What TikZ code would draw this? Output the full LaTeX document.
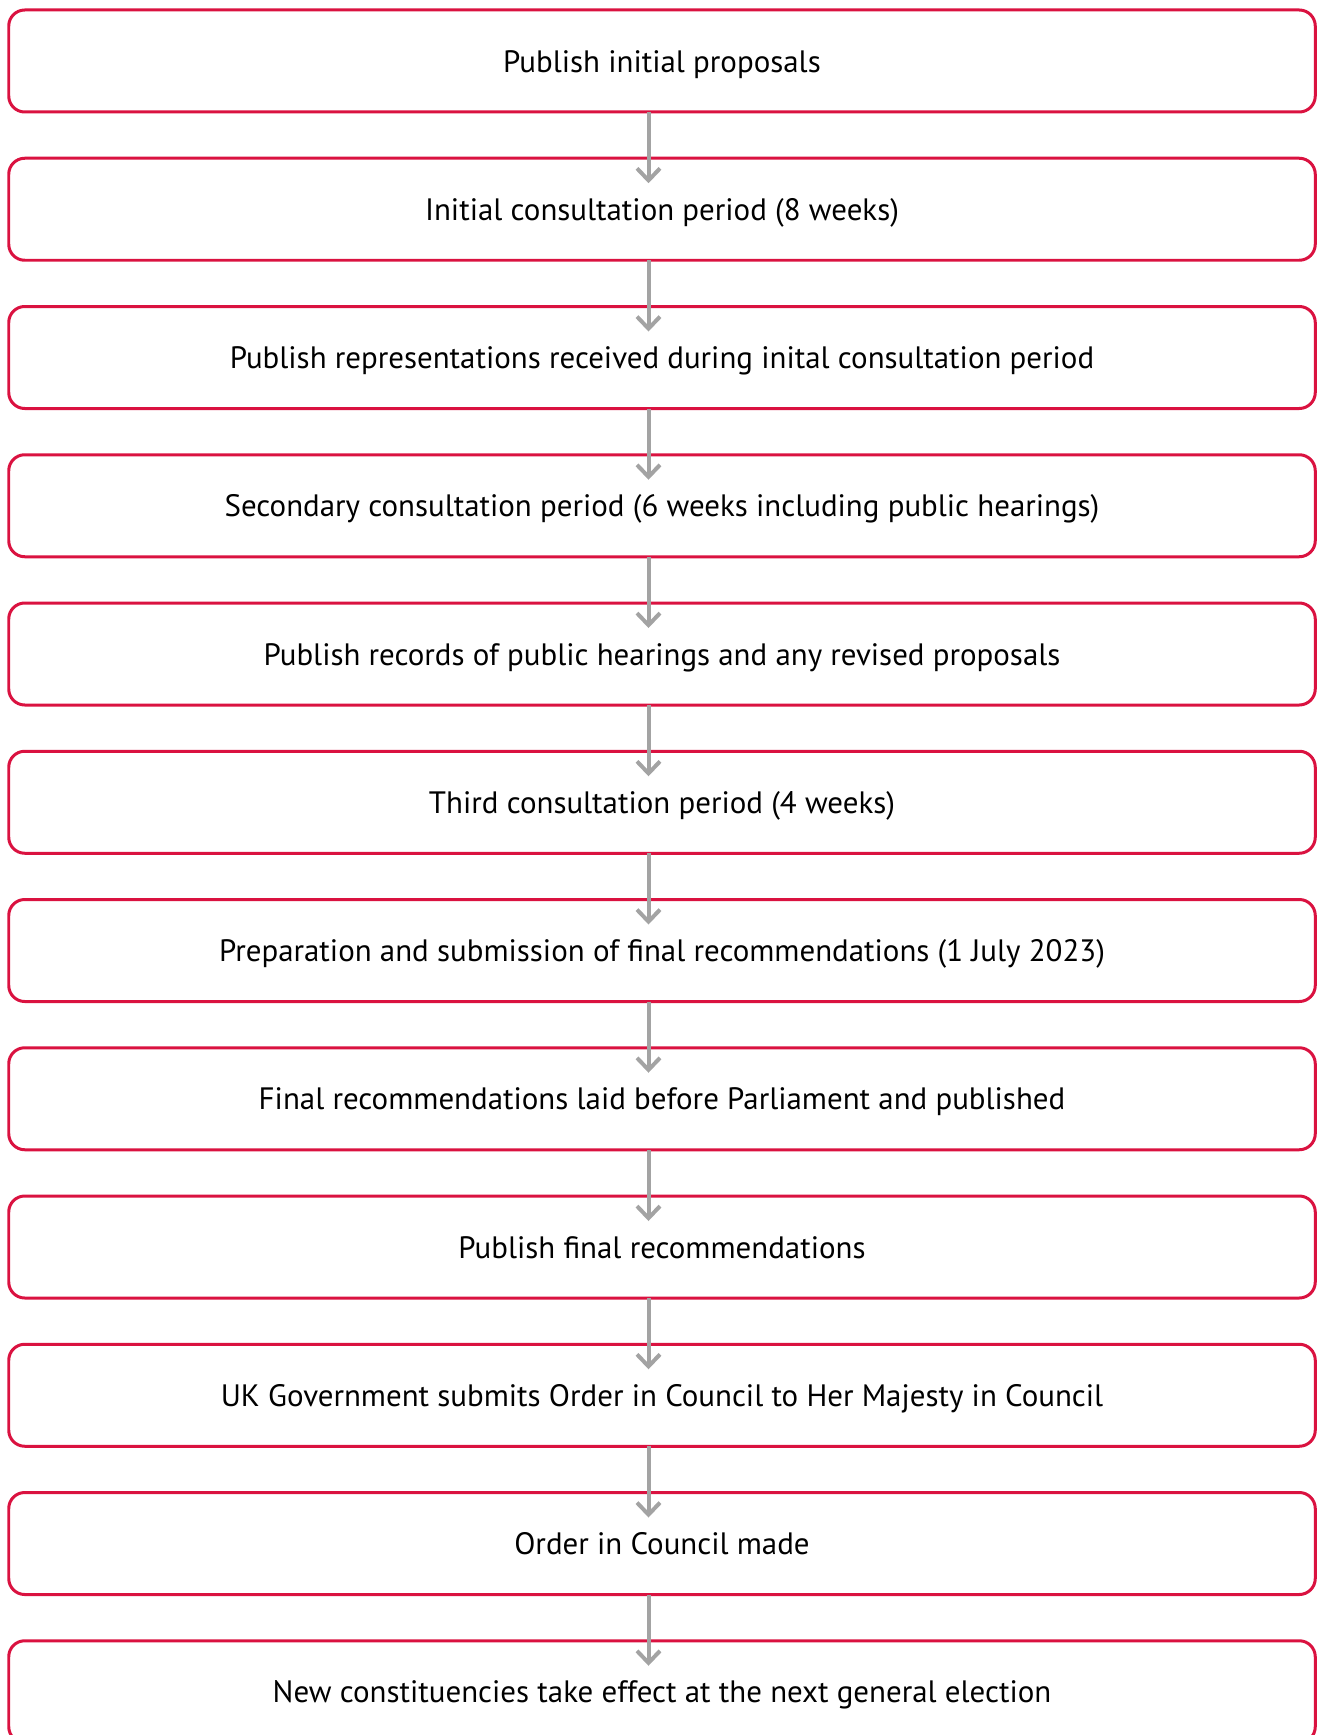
\documentclass[tikz,border=0pt]{standalone}
\usepackage{fontspec}
\setmainfont{PT Sans}
\usetikzlibrary{positioning,arrows.meta}
\definecolor{boxred}{RGB}{218,18,64}
\definecolor{arrowgray}{RGB}{163,163,163}
\tikzset{
  stage/.style={draw=boxred, line width=0.06cm, rounded corners=0.32cm,
    minimum width=26.13cm, minimum height=2.04cm, inner sep=0pt, outer sep=0pt,
    text height=12.7pt, text depth=0pt,
    font=\fontsize{17.6}{20}\selectfont},
  flow/.style={draw=arrowgray, line width=0.08cm,
    -{Straight Barb[length=0.24cm,width=0.46cm]}}
}
\begin{document}
\begin{tikzpicture}[node distance=0.925cm]
\clip (0,0) rectangle (26.38,-34.7); % page
\node[stage] (s1) at (13.24,-1.22) {Publish initial proposals}; % stage 1
\node[stage,below=of s1] (s2) {Initial consultation period (8 weeks)}; % stage 2
\node[stage,below=of s2] (s3) {Publish representations received during inital consultation period}; % stage 3
\node[stage,below=of s3] (s4) {Secondary consultation period (6 weeks including public hearings)}; % stage 4
\node[stage,below=of s4] (s5) {Publish records of public hearings and any revised proposals}; % stage 5
\node[stage,below=of s5] (s6) {Third consultation period (4 weeks)}; % stage 6
\node[stage,below=of s6] (s7) {Preparation and submission of final recommendations (1 July 2023)}; % stage 7
\node[stage,below=of s7] (s8) {Final recommendations laid before Parliament and published}; % stage 8
\node[stage,below=of s8] (s9) {Publish final recommendations}; % stage 9
\node[stage,below=of s9] (s10) {UK Government submits Order in Council to Her Majesty in Council}; % stage 10
\node[stage,below=of s10] (s11) {Order in Council made}; % stage 11
\node[stage,below=of s11] (s12) {New constituencies take effect at the next general election}; % stage 12
\draw[flow] ([xshift=-0.27cm]s1.south) -- ([xshift=-0.27cm,yshift=-0.5cm]s2.north); % 1 to 2
\draw[flow] ([xshift=-0.27cm]s2.south) -- ([xshift=-0.27cm,yshift=-0.5cm]s3.north); % 2 to 3
\draw[flow] ([xshift=-0.27cm]s3.south) -- ([xshift=-0.27cm,yshift=-0.5cm]s4.north); % 3 to 4
\draw[flow] ([xshift=-0.27cm]s4.south) -- ([xshift=-0.27cm,yshift=-0.5cm]s5.north); % 4 to 5
\draw[flow] ([xshift=-0.27cm]s5.south) -- ([xshift=-0.27cm,yshift=-0.5cm]s6.north); % 5 to 6
\draw[flow] ([xshift=-0.27cm]s6.south) -- ([xshift=-0.27cm,yshift=-0.5cm]s7.north); % 6 to 7
\draw[flow] ([xshift=-0.27cm]s7.south) -- ([xshift=-0.27cm,yshift=-0.5cm]s8.north); % 7 to 8
\draw[flow] ([xshift=-0.27cm]s8.south) -- ([xshift=-0.27cm,yshift=-0.5cm]s9.north); % 8 to 9
\draw[flow] ([xshift=-0.27cm]s9.south) -- ([xshift=-0.27cm,yshift=-0.5cm]s10.north); % 9 to 10
\draw[flow] ([xshift=-0.27cm]s10.south) -- ([xshift=-0.27cm,yshift=-0.5cm]s11.north); % 10 to 11
\draw[flow] ([xshift=-0.27cm]s11.south) -- ([xshift=-0.27cm,yshift=-0.5cm]s12.north); % 11 to 12
\end{tikzpicture}
\end{document}
